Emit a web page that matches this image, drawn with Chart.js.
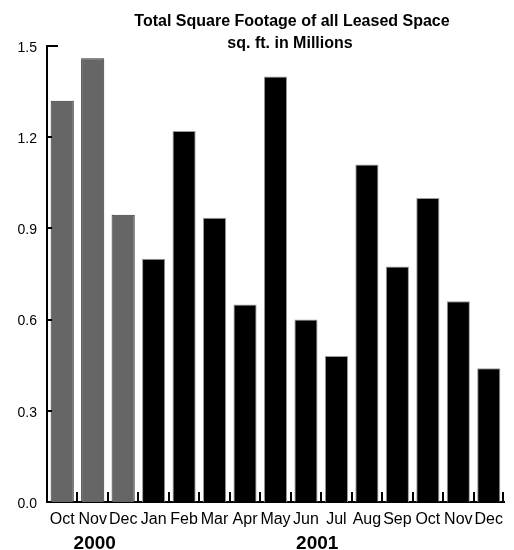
<!DOCTYPE html>
<html>
<head>
<meta charset="utf-8">
<script src="https://cdn.jsdelivr.net/npm/chart.js@4.4.1/dist/chart.umd.min.js"></script>
<style>
    html, body { margin: 0; padding: 0; background: #fff; }
</style>
</head>
<body>
<canvas id="footageChart" width="514" height="550"></canvas>
<script>
const titleLines = ['Total Square Footage of all Leased Space', 'sq. ft. in Millions'];
const months = ['Oct', 'Nov', 'Dec', 'Jan', 'Feb', 'Mar', 'Apr', 'May', 'Jun', 'Jul', 'Aug', 'Sep', 'Oct', 'Nov', 'Dec'];
const years = ['2000', '2001'];
const monthsInYear = [3, 12];
const footage = [1.32, 1.46, 0.945, 0.80, 1.22, 0.935, 0.65, 1.40, 0.60, 0.48, 1.11, 0.775, 1.00, 0.66, 0.44];
const yTicks = [0, 0.3, 0.6, 0.9, 1.2, 1.5];

const fillColors = ['#666666', '#000000'];
const edgeColors = ['#333333', '#9a9a9a'];

// which year each month belongs to
let yearIndex = [];
monthsInYear.forEach(function (count, y) {
    for (let i = 0; i < count; i++) yearIndex.push(y);
});

const decorations = {
    id: 'decorations',
    afterDraw(chart) {
        const ctx = chart.ctx;
        const area = chart.chartArea;
        const xScale = chart.scales.x;
        const yScale = chart.scales.y;

        ctx.save();
        ctx.strokeStyle = '#000';
        ctx.lineWidth = 2;

        // y ticks point into the plot
        yTicks.forEach(function (v, i) {
            if (v === 0) return;
            const py = Math.round(yScale.getPixelForValue(v));
            const len = i === yTicks.length - 1 ? 11 : 5;
            ctx.beginPath();
            ctx.moveTo(area.left, py);
            ctx.lineTo(area.left + len, py);
            ctx.stroke();
        });

        // x ticks at the category boundaries, pointing up
        for (let i = 1; i <= months.length; i++) {
            let px;
            if (i === months.length) px = area.right - 1;
            else px = (xScale.getPixelForValue(i - 1) + xScale.getPixelForValue(i)) / 2;
            px = Math.round(px);
            ctx.beginPath();
            ctx.moveTo(px, area.bottom);
            ctx.lineTo(px, area.bottom - 10);
            ctx.stroke();
        }

        ctx.fillStyle = '#000';
        ctx.textAlign = 'center';
        ctx.textBaseline = 'alphabetic';

        ctx.font = 'bold 16px "Liberation Sans", Arial, sans-serif';
        ctx.fillText(titleLines[0], 292, 26);
        ctx.fillText(titleLines[1], 290, 48);

        // year labels under their months
        ctx.font = 'bold 19px "Liberation Sans", Arial, sans-serif';
        let start = 0;
        years.forEach(function (year, y) {
            const end = start + monthsInYear[y] - 1;
            const cx = (xScale.getPixelForValue(start) + xScale.getPixelForValue(end)) / 2;
            ctx.fillText(year, cx + (y === 0 ? 2 : -4), 549);
            start = end + 1;
        });
        ctx.restore();
    }
};

new Chart('footageChart', {
    type: 'bar',
    data: {
        labels: months,
        datasets: [{
            data: footage,
            backgroundColor: yearIndex.map(y => fillColors[y]),
            borderColor: yearIndex.map(y => edgeColors[y]),
            borderWidth: 1,
            barPercentage: 0.76,
            categoryPercentage: 1
        }]
    },
    options: {
        responsive: false,
        animation: false,
        devicePixelRatio: 1,
        layout: { padding: { top: 46, right: 10, left: 0, bottom: 0 } },
        plugins: {
            legend: { display: false },
            title: { display: false },
            tooltip: { enabled: false }
        },
        scales: {
            x: {
                grid: { display: false, drawTicks: false, offset: true },
                border: { display: true, color: '#000', width: 2 },
                ticks: {
                    color: '#000',
                    padding: 8,
                    autoSkip: false,
                    maxRotation: 0,
                    font: { family: '"Liberation Sans Narrow", "Liberation Sans", Arial, sans-serif', size: 16 }
                },
                afterFit(scale) { scale.height = 48; }
            },
            y: {
                min: 0,
                max: 1.5,
                afterBuildTicks(scale) { scale.ticks = yTicks.map(v => ({ value: v })); },
                afterFit(scale) { scale.width = 47; },
                grid: { display: false, drawTicks: false },
                border: { display: true, color: '#000', width: 2 },
                ticks: {
                    color: '#000',
                    padding: 10,
                    labelOffset: 2,
                    font: { family: '"Liberation Sans", Arial, sans-serif', size: 14 },
                    callback: v => v.toFixed(1)
                }
            }
        }
    },
    plugins: [decorations]
});
</script>
</body>
</html>
